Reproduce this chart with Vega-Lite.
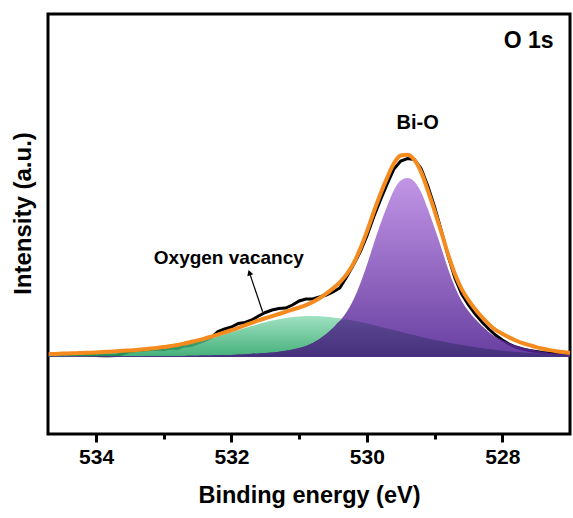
{
  "$schema": "https://vega.github.io/schema/vega-lite/v6.json",
  "width": 522,
  "height": 420,
  "autosize": {"type": "none"},
  "padding": {"left": 48, "top": 14, "right": 3, "bottom": 84},
  "background": "white",
  "config": {"view": {"stroke": "black", "strokeWidth": 3}, "font": "Liberation Sans"},
  "datasets": {
    "xps": [
      {"be": 534.7, "raw": 3.5, "env": 2.9, "bio": 0.4, "ov": 2.5, "olap": 0.4},
      {"be": 534.6, "raw": 3.2, "env": 3.1, "bio": 0.4, "ov": 2.7, "olap": 0.4},
      {"be": 534.5, "raw": 3.0, "env": 3.4, "bio": 0.5, "ov": 2.9, "olap": 0.5},
      {"be": 534.4, "raw": 2.5, "env": 3.6, "bio": 0.5, "ov": 3.1, "olap": 0.5},
      {"be": 534.3, "raw": 2.5, "env": 3.8, "bio": 0.5, "ov": 3.3, "olap": 0.5},
      {"be": 534.2, "raw": 2.8, "env": 4.1, "bio": 0.6, "ov": 3.5, "olap": 0.6},
      {"be": 534.1, "raw": 2.0, "env": 4.3, "bio": 0.6, "ov": 3.7, "olap": 0.6},
      {"be": 534.0, "raw": 1.5, "env": 4.6, "bio": 0.6, "ov": 4.0, "olap": 0.6},
      {"be": 533.9, "raw": 1.2, "env": 5.0, "bio": 0.7, "ov": 4.3, "olap": 0.7},
      {"be": 533.8, "raw": 1.3, "env": 5.3, "bio": 0.7, "ov": 4.6, "olap": 0.7},
      {"be": 533.7, "raw": 1.5, "env": 5.7, "bio": 0.7, "ov": 5.0, "olap": 0.7},
      {"be": 533.6, "raw": 3.5, "env": 6.2, "bio": 0.8, "ov": 5.4, "olap": 0.8},
      {"be": 533.5, "raw": 5.5, "env": 6.6, "bio": 0.8, "ov": 5.8, "olap": 0.8},
      {"be": 533.4, "raw": 6.5, "env": 7.1, "bio": 0.8, "ov": 6.3, "olap": 0.8},
      {"be": 533.3, "raw": 7.0, "env": 7.7, "bio": 0.8, "ov": 6.9, "olap": 0.8},
      {"be": 533.2, "raw": 7.5, "env": 8.4, "bio": 0.9, "ov": 7.5, "olap": 0.9},
      {"be": 533.1, "raw": 8.0, "env": 9.1, "bio": 0.9, "ov": 8.2, "olap": 0.9},
      {"be": 533.0, "raw": 7.5, "env": 9.9, "bio": 0.9, "ov": 9.0, "olap": 0.9},
      {"be": 532.9, "raw": 9.0, "env": 11.0, "bio": 1.0, "ov": 10.0, "olap": 1.0},
      {"be": 532.8, "raw": 8.5, "env": 12.0, "bio": 1.0, "ov": 11.0, "olap": 1.0},
      {"be": 532.7, "raw": 11.0, "env": 13.4, "bio": 1.1, "ov": 12.3, "olap": 1.1},
      {"be": 532.6, "raw": 11.5, "env": 15.0, "bio": 1.2, "ov": 13.8, "olap": 1.2},
      {"be": 532.5, "raw": 14.0, "env": 16.6, "bio": 1.3, "ov": 15.3, "olap": 1.3},
      {"be": 532.4, "raw": 16.5, "env": 18.4, "bio": 1.4, "ov": 17.0, "olap": 1.4},
      {"be": 532.3, "raw": 19.5, "env": 20.4, "bio": 1.55, "ov": 18.8, "olap": 1.55},
      {"be": 532.2, "raw": 25.5, "env": 22.4, "bio": 1.7, "ov": 20.7, "olap": 1.7},
      {"be": 532.1, "raw": 28.0, "env": 24.6, "bio": 1.9, "ov": 22.7, "olap": 1.9},
      {"be": 532.0, "raw": 30.0, "env": 26.8, "bio": 2.1, "ov": 24.7, "olap": 2.1},
      {"be": 531.9, "raw": 33.5, "env": 29.2, "bio": 2.4, "ov": 26.8, "olap": 2.4},
      {"be": 531.8, "raw": 34.5, "env": 31.7, "bio": 2.8, "ov": 28.9, "olap": 2.8},
      {"be": 531.7, "raw": 37.0, "env": 34.2, "bio": 3.2, "ov": 31.0, "olap": 3.2},
      {"be": 531.6, "raw": 41.0, "env": 36.6, "bio": 3.6, "ov": 33.0, "olap": 3.6},
      {"be": 531.5, "raw": 44.5, "env": 38.8, "bio": 4.0, "ov": 34.8, "olap": 4.0},
      {"be": 531.4, "raw": 47.0, "env": 40.9, "bio": 4.5, "ov": 36.4, "olap": 4.5},
      {"be": 531.3, "raw": 48.5, "env": 43.0, "bio": 5.2, "ov": 37.8, "olap": 5.2},
      {"be": 531.2, "raw": 49.0, "env": 45.2, "bio": 6.2, "ov": 39.0, "olap": 6.2},
      {"be": 531.1, "raw": 52.0, "env": 47.4, "bio": 7.5, "ov": 39.9, "olap": 7.5},
      {"be": 531.0, "raw": 56.0, "env": 49.5, "bio": 9.0, "ov": 40.5, "olap": 9.0},
      {"be": 530.9, "raw": 58.0, "env": 51.9, "bio": 11.0, "ov": 40.9, "olap": 11.0},
      {"be": 530.8, "raw": 58.0, "env": 55.0, "bio": 14.0, "ov": 41.0, "olap": 14.0},
      {"be": 530.7, "raw": 60.0, "env": 58.8, "bio": 18.0, "ov": 40.8, "olap": 18.0},
      {"be": 530.6, "raw": 62.0, "env": 63.3, "bio": 23.0, "ov": 40.3, "olap": 23.0},
      {"be": 530.5, "raw": 65.0, "env": 68.6, "bio": 29.0, "ov": 39.6, "olap": 29.0},
      {"be": 530.4, "raw": 69.0, "env": 74.7, "bio": 36.0, "ov": 38.7, "olap": 36.0},
      {"be": 530.3, "raw": 80.0, "env": 82.6, "bio": 45.0, "ov": 37.6, "olap": 37.6},
      {"be": 530.2, "raw": 92.0, "env": 93.3, "bio": 57.0, "ov": 36.3, "olap": 36.3},
      {"be": 530.1, "raw": 105.0, "env": 107.9, "bio": 73.0, "ov": 34.9, "olap": 34.9},
      {"be": 530.0, "raw": 121.0, "env": 125.4, "bio": 92.0, "ov": 33.4, "olap": 33.4},
      {"be": 529.9, "raw": 140.0, "env": 144.8, "bio": 113.0, "ov": 31.8, "olap": 31.8},
      {"be": 529.8, "raw": 157.0, "env": 163.1, "bio": 133.0, "ov": 30.1, "olap": 30.1},
      {"be": 529.7, "raw": 173.0, "env": 179.4, "bio": 151.0, "ov": 28.4, "olap": 28.4},
      {"be": 529.6, "raw": 188.0, "env": 193.7, "bio": 167.0, "ov": 26.7, "olap": 26.7},
      {"be": 529.5, "raw": 196.0, "env": 201.5, "bio": 176.5, "ov": 25.0, "olap": 25.0},
      {"be": 529.4, "raw": 198.5, "env": 202.3, "bio": 179.0, "ov": 23.3, "olap": 23.3},
      {"be": 529.3, "raw": 197.5, "env": 197.2, "bio": 175.5, "ov": 21.7, "olap": 21.7},
      {"be": 529.2, "raw": 188.5, "env": 185.1, "bio": 165.0, "ov": 20.1, "olap": 20.1},
      {"be": 529.1, "raw": 171.0, "env": 166.6, "bio": 148.0, "ov": 18.6, "olap": 18.6},
      {"be": 529.0, "raw": 150.0, "env": 146.1, "bio": 129.0, "ov": 17.1, "olap": 17.1},
      {"be": 528.9, "raw": 126.0, "env": 124.7, "bio": 109.0, "ov": 15.7, "olap": 15.7},
      {"be": 528.8, "raw": 101.0, "env": 102.4, "bio": 88.0, "ov": 14.4, "olap": 14.4},
      {"be": 528.7, "raw": 79.0, "env": 83.1, "bio": 70.0, "ov": 13.1, "olap": 13.1},
      {"be": 528.6, "raw": 63.0, "env": 67.9, "bio": 56.0, "ov": 11.9, "olap": 11.9},
      {"be": 528.5, "raw": 52.0, "env": 56.8, "bio": 46.0, "ov": 10.8, "olap": 10.8},
      {"be": 528.4, "raw": 43.0, "env": 47.8, "bio": 38.0, "ov": 9.8, "olap": 9.8},
      {"be": 528.3, "raw": 35.0, "env": 39.8, "bio": 31.0, "ov": 8.8, "olap": 8.8},
      {"be": 528.2, "raw": 28.0, "env": 32.9, "bio": 25.0, "ov": 7.9, "olap": 7.9},
      {"be": 528.1, "raw": 22.0, "env": 27.1, "bio": 20.0, "ov": 7.1, "olap": 7.1},
      {"be": 528.0, "raw": 17.0, "env": 23.3, "bio": 17.0, "ov": 6.3, "olap": 6.3},
      {"be": 527.9, "raw": 13.0, "env": 19.6, "bio": 14.0, "ov": 5.6, "olap": 5.6},
      {"be": 527.8, "raw": 10.0, "env": 16.5, "bio": 11.5, "ov": 5.0, "olap": 5.0},
      {"be": 527.7, "raw": 8.0, "env": 13.9, "bio": 9.5, "ov": 4.4, "olap": 4.4},
      {"be": 527.6, "raw": 6.5, "env": 11.9, "bio": 8.0, "ov": 3.9, "olap": 3.9},
      {"be": 527.5, "raw": 5.5, "env": 9.9, "bio": 6.5, "ov": 3.4, "olap": 3.4},
      {"be": 527.4, "raw": 4.5, "env": 8.3, "bio": 5.3, "ov": 3.0, "olap": 3.0},
      {"be": 527.3, "raw": 4.0, "env": 6.9, "bio": 4.3, "ov": 2.6, "olap": 2.6},
      {"be": 527.2, "raw": 3.5, "env": 5.8, "bio": 3.5, "ov": 2.3, "olap": 2.3},
      {"be": 527.1, "raw": 3.2, "env": 4.9, "bio": 2.9, "ov": 2.0, "olap": 2.0},
      {"be": 527.0, "raw": 3.0, "env": 4.1, "bio": 2.4, "ov": 1.7, "olap": 1.7}
    ],
    "arrow": [{"be": 531.54, "i": 45.3, "be2": 531.735, "i2": 84.4}],
    "notes": [
      {"be": 527.61, "i": 316, "label": "O 1s"},
      {"be": 529.25, "i": 234.5, "label": "Bi-O"},
      {"be": 532.04, "i": 99.5, "label": "Oxygen vacancy"}
    ]
  },
  "layer": [
    {
      "data": {"name": "xps"},
      "mark": {"type": "line", "color": "black", "strokeWidth": 3, "interpolate": "linear"},
      "encoding": {
        "x": {
          "field": "be", "type": "quantitative",
          "scale": {"domain": [527.0, 534.71], "reverse": true, "nice": false, "zero": false},
          "axis": {
            "title": "Binding energy (eV)",
            "values": [528, 529, 530, 531, 532, 533, 534],
            "format": "d",
            "labelExpr": "datum.value % 2 == 0 ? datum.label : ''",
            "tickSize": {"condition": {"test": "datum.value % 2 == 1", "value": 5}, "value": 8},
            "tickWidth": 3, "tickColor": "black",
            "domain": false, "grid": false,
            "labelFont": "Liberation Sans", "labelFontSize": 21, "labelFontWeight": "bold", "labelColor": "black",
            "labelBaseline": "middle", "labelPadding": 15,
            "titleFont": "Liberation Sans", "titleFontSize": 23.5, "titleFontWeight": "bold", "titleColor": "black",
            "titleBaseline": "middle", "titleY": 61
          }
        },
        "y": {
          "field": "raw", "type": "quantitative",
          "scale": {"domain": [-77, 343], "nice": false, "zero": false},
          "axis": {
            "title": "Intensity (a.u.)",
            "labels": false, "ticks": false, "domain": false, "grid": false,
            "titleFont": "Liberation Sans", "titleFontSize": 24, "titleFontWeight": "bold", "titleColor": "black",
            "titleX": -25, "titleY": 199, "titleBaseline": "middle", "titleAlign": "center", "titleAngle": -90
          }
        }
      }
    },
    {
      "data": {"name": "xps"},
      "mark": {"type": "area", "interpolate": "monotone", "opacity": 0.85,
        "color": {"gradient": "linear", "x1": 0, "y1": 0, "x2": 0, "y2": 1,
          "stops": [{"offset": 0, "color": "#8fdcb7"}, {"offset": 1, "color": "#24a262"}]}},
      "encoding": {
        "x": {"field": "be", "type": "quantitative"},
        "y": {"field": "ov", "type": "quantitative"},
        "y2": {"datum": 0}
      }
    },
    {
      "data": {"name": "xps"},
      "mark": {"type": "area", "interpolate": "monotone", "opacity": 0.87,
        "color": {"gradient": "linear", "x1": 0, "y1": 0, "x2": 0, "y2": 1,
          "stops": [{"offset": 0, "color": "#b885e2"}, {"offset": 1, "color": "#522393"}]}},
      "encoding": {
        "x": {"field": "be", "type": "quantitative"},
        "y": {"field": "bio", "type": "quantitative"},
        "y2": {"datum": 0}
      }
    },
    {
      "data": {"name": "xps"},
      "mark": {"type": "area", "interpolate": "monotone", "opacity": 0.92,
        "color": {"gradient": "linear", "x1": 0, "y1": 0, "x2": 0, "y2": 1,
          "stops": [{"offset": 0, "color": "#5a4690"}, {"offset": 1, "color": "#43307a"}]}},
      "encoding": {
        "x": {"field": "be", "type": "quantitative"},
        "y": {"field": "olap", "type": "quantitative"},
        "y2": {"datum": 0}
      }
    },
    {
      "data": {"name": "xps"},
      "mark": {"type": "line", "color": "#f58a1f", "strokeWidth": 4, "interpolate": "monotone"},
      "encoding": {
        "x": {"field": "be", "type": "quantitative"},
        "y": {"field": "env", "type": "quantitative"}
      }
    },
    {
      "mark": {"type": "rule", "color": "#3a72e0", "strokeWidth": 3.5},
      "encoding": {"y": {"datum": 0}}
    },
    {
      "data": {"name": "arrow"},
      "mark": {"type": "rule", "color": "black", "strokeWidth": 1.2},
      "encoding": {
        "x": {"field": "be", "type": "quantitative"},
        "x2": {"field": "be2"},
        "y": {"field": "i", "type": "quantitative"},
        "y2": {"field": "i2"}
      }
    },
    {
      "data": {"name": "arrow"},
      "mark": {"type": "point", "shape": "triangle-up", "filled": true, "color": "black", "size": 40, "angle": 341, "opacity": 1},
      "encoding": {
        "x": {"field": "be2", "type": "quantitative"},
        "y": {"field": "i2", "type": "quantitative"}
      }
    },
    {
      "data": {"name": "notes"},
      "transform": [{"filter": "datum.label == 'O 1s'"}],
      "mark": {"type": "text", "font": "Liberation Sans", "fontWeight": "bold", "fontSize": 23, "color": "black", "align": "center", "baseline": "middle"},
      "encoding": {
        "x": {"field": "be", "type": "quantitative"},
        "y": {"field": "i", "type": "quantitative"},
        "text": {"field": "label"}
      }
    },
    {
      "data": {"name": "notes"},
      "transform": [{"filter": "datum.label == 'Bi-O'"}],
      "mark": {"type": "text", "font": "Liberation Sans", "fontWeight": "bold", "fontSize": 20, "color": "black", "align": "center", "baseline": "middle"},
      "encoding": {
        "x": {"field": "be", "type": "quantitative"},
        "y": {"field": "i", "type": "quantitative"},
        "text": {"field": "label"}
      }
    },
    {
      "data": {"name": "notes"},
      "transform": [{"filter": "datum.label == 'Oxygen vacancy'"}],
      "mark": {"type": "text", "font": "Liberation Sans", "fontWeight": "bold", "fontSize": 19, "color": "black", "align": "center", "baseline": "middle"},
      "encoding": {
        "x": {"field": "be", "type": "quantitative"},
        "y": {"field": "i", "type": "quantitative"},
        "text": {"field": "label"}
      }
    }
  ]
}
